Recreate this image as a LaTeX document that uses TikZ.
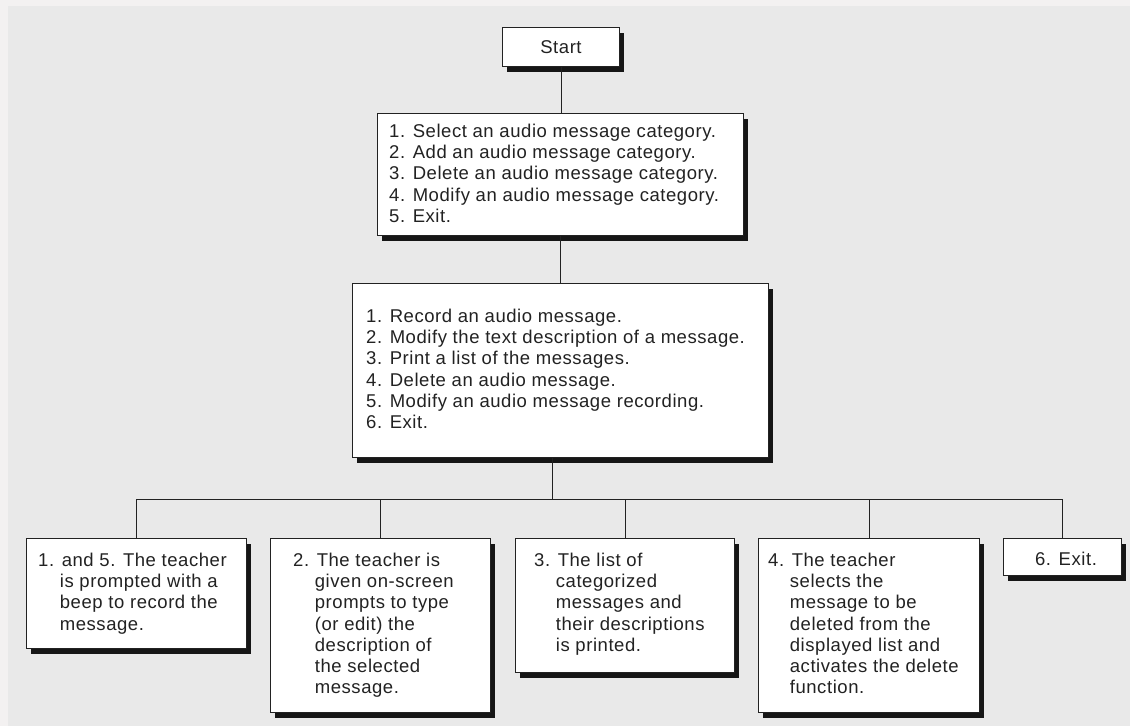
\documentclass[tikz,border=0pt]{standalone}
\usepackage{fontspec}
\setmainfont{Liberation Sans}[LetterSpace=3]
\usetikzlibrary{shadows,calc}
\definecolor{bg}{HTML}{E9E9E9}
\definecolor{edgecol}{HTML}{F3F1F1}
\definecolor{ink}{HTML}{222222}
\newcommand\hin{\phantom{0.\ }}
\begin{document}
\begin{tikzpicture}[x=1pt,y=-1pt,
  box/.style={draw=ink, line width=0.8pt, fill=white, inner sep=0pt, anchor=north west,
    drop shadow={shadow xshift=5pt, shadow yshift=-6pt, fill=black, opacity=0.9}},
  txt/.style={anchor=north west, inner sep=0pt, align=left, text=ink, font=\fontsize{18.5}{21.3}\selectfont},
  link/.style={draw=ink, line width=0.8pt}]
\useasboundingbox (0,0) rectangle (1130,726);
\fill[bg] (0,0) rectangle (1130,726);
\fill[edgecol] (0,0) rectangle (8,726);
\fill[edgecol] (0,0) rectangle (1130,6);

% boxes
\node[box, minimum width=117, minimum height=39] (start) at (502,27) {};
\node[box, minimum width=366, minimum height=122] (b1) at (377,113) {};
\node[box, minimum width=416, minimum height=174] (b2) at (352,283) {};
\node[box, minimum width=220, minimum height=110] (a) at (26,538) {};
\node[box, minimum width=220, minimum height=174] (b) at (270,538) {};
\node[box, minimum width=219, minimum height=134] (c) at (515,538) {};
\node[box, minimum width=221, minimum height=174] (d) at (758,538) {};
\node[box, minimum width=118, minimum height=37] (e) at (1003,538) {};

% connectors
\coordinate (bus) at (552,499);
\draw[link] (start.south) -- (start.south |- b1.north);
\draw[link] (b1.south) -- (b1.south |- b2.north);
\draw[link] (b2.south -| bus) -- (bus);
\draw[link] (a.north |- bus) -- (e.north |- bus);
\foreach \n in {a,b,c,d,e} \draw[link] (\n.north) -- (\n.north |- bus);

% texts
\node[txt, anchor=base] (startt) at (561,53) {Start};
\node[txt] (b1t) at (389,123.5) {1. Select an audio message category.\\
2. Add an audio message category.\\
3. Delete an audio message category.\\
4. Modify an audio message category.\\
5. Exit.};
\node[txt] (b2t) at (366,308.5) {1. Record an audio message.\\
2. Modify the text description of a message.\\
3. Print a list of the messages.\\
4. Delete an audio message.\\
5. Modify an audio message recording.\\
6. Exit.};
\node[txt] (at) at (38,552.5) {1. and 5. The teacher\\
\hin is prompted with a\\
\hin beep to record the\\
\hin message.};
\node[txt] (bt) at (293,552.5) {2. The teacher is\\
\hin given on-screen\\
\hin prompts to type\\
\hin (or edit) the\\
\hin description of\\
\hin the selected\\
\hin message.};
\node[txt] (ct) at (534,552.5) {3. The list of\\
\hin categorized\\
\hin messages and\\
\hin their descriptions\\
\hin is printed.};
\node[txt] (dt) at (768,552.5) {4. The teacher\\
\hin selects the\\
\hin message to be\\
\hin deleted from the\\
\hin displayed list and\\
\hin activates the delete\\
\hin function.};
\node[txt, anchor=base] (et) at (1066,565) {6. Exit.};
\end{tikzpicture}
\end{document}
